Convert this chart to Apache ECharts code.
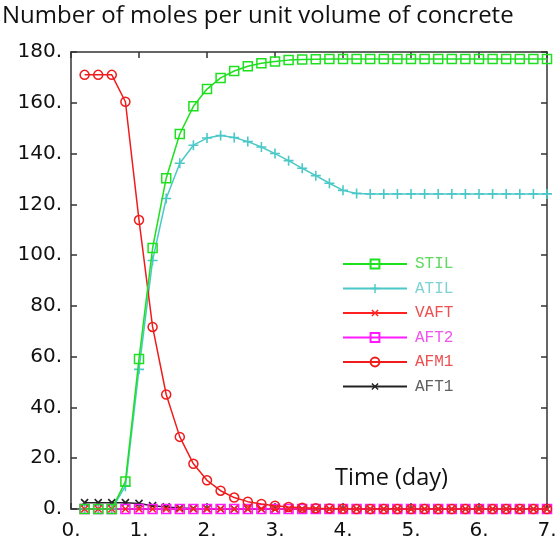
<!DOCTYPE html>
<html>
<head>
<meta charset="utf-8">
<script src="https://cdn.jsdelivr.net/npm/echarts@6/dist/echarts.min.js"></script>
<style>html,body{margin:0;padding:0;background:#fff;}#c{width:560px;height:544px;}</style>
</head>
<body>
<div id="c"></div>
<script>
var time = [0.2,0.4,0.6,0.8,1.0,1.2,1.4,1.6,1.8,2.0,2.2,2.4,2.6,2.8,3.0,3.2,3.4,3.6,3.8,4.0,4.2,4.4,4.6,4.8,5.0,5.2,5.4,5.6,5.8,6.0,6.2,6.4,6.6,6.8,7.0];
var STIL = [0,0,0,10.8,59.1,102.8,130.3,147.7,158.6,165.4,169.8,172.5,174.4,175.6,176.3,176.8,177.0,177.1,177.2,177.2,177.2,177.2,177.2,177.2,177.2,177.2,177.2,177.2,177.2,177.2,177.2,177.2,177.2,177.2,177.2];
var ATIL = [0,0,0,9,55,97.9,122.3,136.2,143.3,146.1,147.1,146.3,144.7,142.6,140.0,137.2,134.2,131.3,128.3,125.5,124.3,124.1,124.1,124.1,124.1,124.1,124.1,124.1,124.1,124.1,124.1,124.1,124.1,124.1,124.1];
var VAFT = [0,0,0,0,0,0,0,0,0,0,0,0,0,0,0,0,0,0,0,0,0,0,0,0,0,0,0,0,0,0,0,0,0,0,0];
var AFT2 = [0,0,0,0,0,0,0,0,0,0,0,0,0,0,0,0,0,0,0,0,0,0,0,0,0,0,0,0,0,0,0,0,0,0,0];
var AFM1 = [171,171,171,160.4,113.8,71.7,45.1,28.4,17.8,11.3,7.2,4.5,2.9,2.0,1.3,0.8,0.5,0.3,0.2,0.1,0,0,0,0,0,0,0,0,0,0,0,0,0,0,0];
var AFT1 = [2.5,2.5,2.5,2.5,2.2,1.3,0.8,0.4,0.2,0.1,0,0,0,0,0,0,0,0,0,0,0,0,0,0,0,0,0,0,0,0,0,0,0,0,0];
var xTicks = [0,1,2,3,4,5,6,7];
var yTicks = [0,20,40,60,80,100,120,140,160,180];
var title = 'Number of moles per unit volume of concrete';
var xName = 'Time (day)';

function pairs(arr){ return time.map(function(t,i){ return [t, arr[i]]; }); }
var PLUS = 'path://M4.2,0H5.8V10H4.2ZM0,4.2H10V5.8H0Z';

var specs = [
  {name:'STIL', data:STIL, color:'#1ee01e', text:'#5ed85e', symbol:'rect', size:9, hollow:true, z:5},
  {name:'ATIL', data:ATIL, color:'#4cc8c8', text:'#7fd2d2', symbol:PLUS, size:10, hollow:false, z:3},
  {name:'VAFT', data:VAFT, color:'#ff2020', text:'#ec5050', symbol:PLUS, size:10, hollow:false, rot:45, z:3},
  {name:'AFT2', data:AFT2, color:'#ff1aff', text:'#ee55ee', symbol:'rect', size:9, hollow:true, z:3},
  {name:'AFM1', data:AFM1, color:'#f01c1c', text:'#ec5050', symbol:'circle', size:9, hollow:true, z:4},
  {name:'AFT1', data:AFT1, color:'#222222', text:'#606060', symbol:PLUS, size:10, hollow:false, rot:45, z:2}
];

var series = specs.map(function(s){
  return {
    name: s.name, type:'line', data: pairs(s.data), z: s.z,
    xAxisIndex:0, yAxisIndex:0,
    symbol: s.symbol, symbolSize: s.size, symbolRotate: s.rot || 0,
    showSymbol:true, showAllSymbol:true, animation:false,
    lineStyle:{color:s.color, width:1.5},
    itemStyle: s.hollow ? {color:'rgba(255,255,255,0)', borderColor:s.color, borderWidth:1.5}
                        : {color:s.color, borderWidth:0},
    emphasis:{disabled:true}
  };
});

var axisLine = {show:true, onZero:false, lineStyle:{color:'#333', width:1.5}};
var tick = {show:true, inside:true, length:6, lineStyle:{color:'#333', width:1.5}};
var lbl = {fontFamily:'DejaVu Sans', fontSize:20, color:'#111', formatter:function(v){return v+'.';}};

var chart = echarts.init(document.getElementById('c'), null, {renderer:'canvas'});
chart.setOption({
  animation:false,
  backgroundColor:'#fff',
  grid:{left:71, top:52, right:13, bottom:35},
  xAxis:[
    {type:'value', min:xTicks[0], max:xTicks[xTicks.length-1], interval:1, position:'bottom',
     axisLine:axisLine, axisTick:tick, splitLine:{show:false},
     axisLabel:Object.assign({margin:12}, lbl)},
    {type:'value', min:xTicks[0], max:xTicks[xTicks.length-1], interval:1, position:'top',
     axisLine:axisLine, axisTick:tick, splitLine:{show:false}, axisLabel:{show:false}}
  ],
  yAxis:[
    {type:'value', min:yTicks[0], max:yTicks[yTicks.length-1], interval:20, position:'left',
     axisLine:axisLine, axisTick:tick, splitLine:{show:false},
     axisLabel:Object.assign({margin:9}, lbl)},
    {type:'value', min:yTicks[0], max:yTicks[yTicks.length-1], interval:20, position:'right',
     axisLine:axisLine, axisTick:tick, splitLine:{show:false}, axisLabel:{show:false}}
  ],
  legend:{
    orient:'vertical', left:342, top:256, padding:0,
    itemWidth:64, itemHeight:11, itemGap:8.5,
    selectedMode:false,
    data: specs.map(function(s){ return {name:s.name, textStyle:{color:s.text}}; }),
    textStyle:{fontFamily:'Liberation Mono', fontSize:16, lineHeight:16, padding:[0,0,0,3]}
  },
  graphic:[
    {type:'text', left:2, top:4, style:{text:title, font:'24px "Open Sans"', fill:'#111'}},
    {type:'text', left:335, top:466, style:{text:xName, font:'23.5px "Open Sans"', fill:'#111'}}
  ],
  series: series
});
</script>
</body>
</html>
